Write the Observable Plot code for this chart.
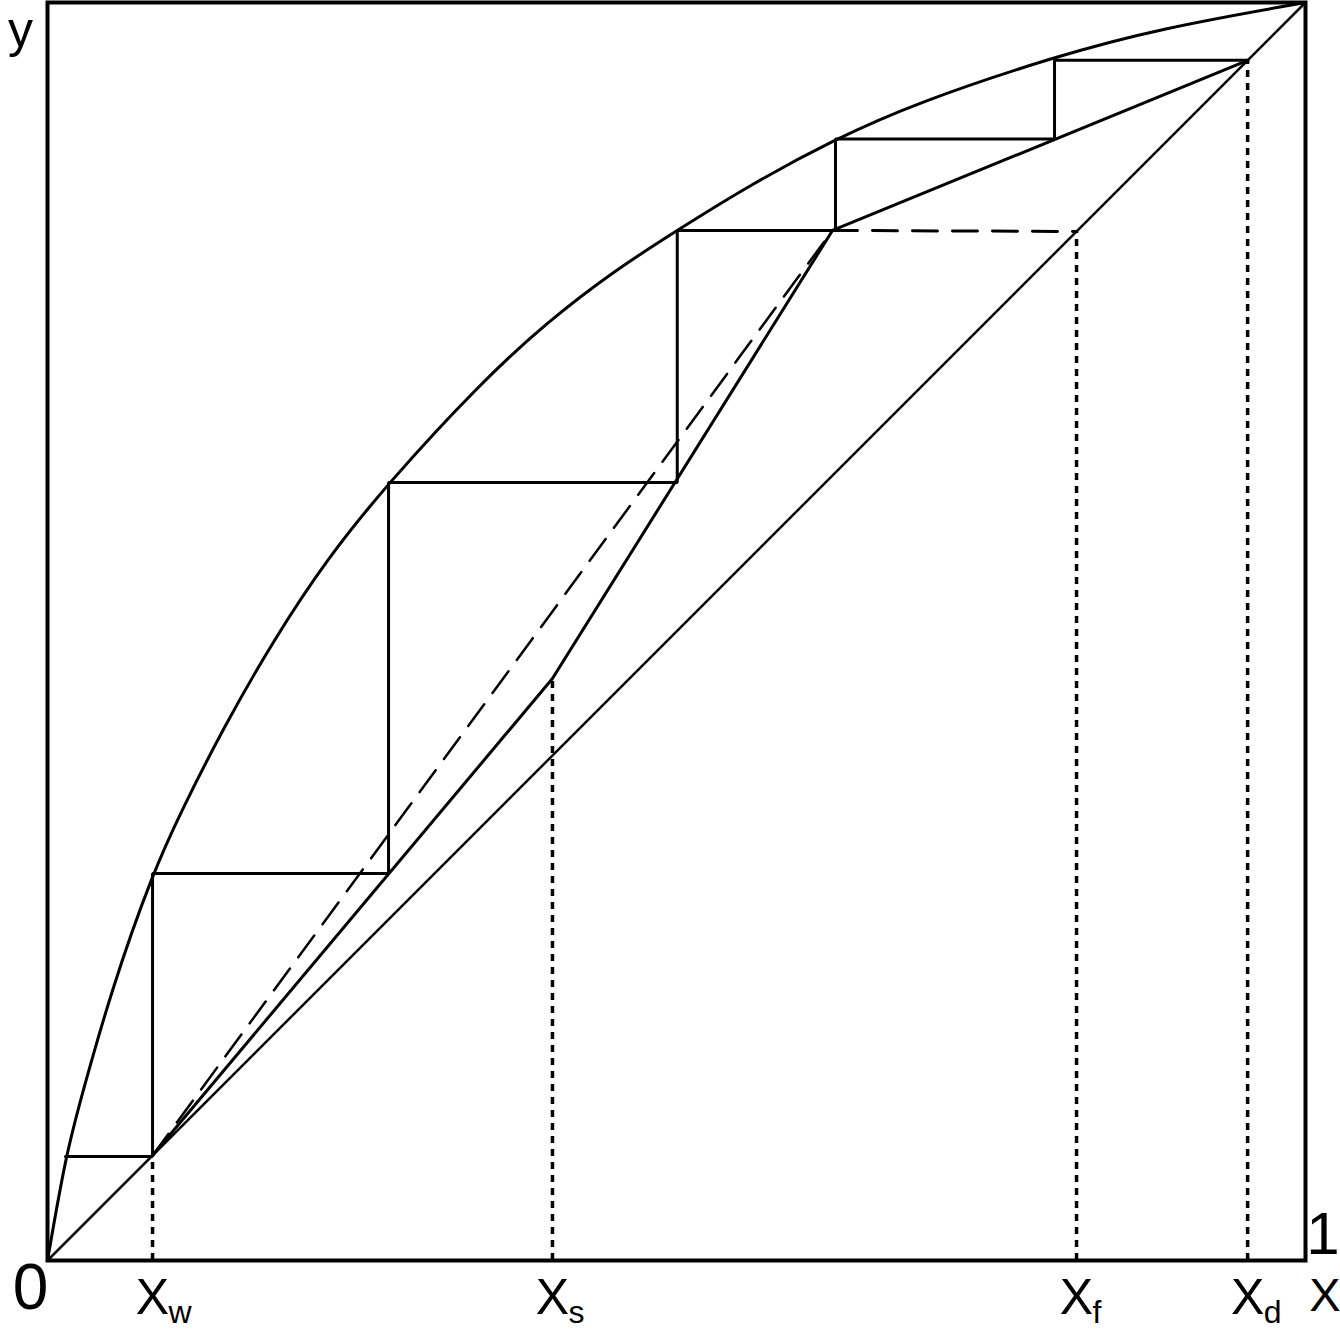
<!DOCTYPE html>
<html>
<head>
<meta charset="utf-8">
<script src="https://cdn.jsdelivr.net/npm/d3@7"></script>
<script src="https://cdn.jsdelivr.net/npm/@observablehq/plot@0.6"></script>
<style>
  html, body { margin: 0; padding: 0; background: #fff; }
  svg { display: block; }
</style>
</head>
<body>
<div id="chart"></div>
<script>
// Equilibrium curve
const eqX = [0, 0.0143, 0.0276, 0.0514, 0.0835, 0.1057, 0.1401, 0.1799, 0.2223, 0.2711, 0.3442, 0.3972, 0.4502, 0.5006, 0.5601, 0.6264, 0.6900, 0.8005, 0.8847, 1];
const eqY = [0, 0.0827, 0.1327, 0.2170, 0.3076, 0.3560, 0.4240, 0.4935, 0.5580, 0.6184, 0.6975, 0.7460, 0.7865, 0.8190, 0.8560, 0.8915, 0.9200, 0.9571, 0.9795, 1];

// Key compositions
const xw = 0.0835, xs = 0.4014, xf = 0.818, xd = 0.954;
const ys = 0.4626;          // stripping/middle junction
const xKink = 0.624, yKink = 0.8188;  // feed (q-line) intersection

// Diagonal
const diagX = [0, 1];
const diagY = [0, 1];

// Operating lines (rectifying -> middle -> stripping)
const opX = [xd, xKink, xs, xw];
const opY = [xd, yKink, ys, xw];

// Stage staircase
const stairX = [xd, 0.8005, 0.8005, 0.6264, 0.6264, 0.5006, 0.5006, 0.2711, 0.2711, 0.0835, 0.0835, 0.0143];
const stairY = [xd, xd, 0.8915, 0.8915, yKink, yKink, 0.6184, 0.6184, 0.3076, 0.3076, 0.0827, 0.0827];

// Dashed lines
const qLineX = [xKink, xf];
const qLineY = [yKink, xf];
const minRefluxX = [xw, xKink];
const minRefluxY = [xw, yKink];

// Dotted drop lines
const dropX = [xw, xs, xf, xd];
const dropTop = [xw, ys, xf, xd];

// Tick labels
const tickMain = ["X", "X", "X", "X"];
const tickSub = ["w", "s", "f", "d"];

const toPts = (xs_, ys_) => xs_.map((x, i) => ({x, y: ys_[i]}));
const drops = dropX.map((x, i) => ({x, top: dropTop[i]}));
const ticks = dropX.map((x, i) => ({x, main: tickMain[i], sub: tickSub[i]}));

const font = "Liberation Sans, Arial, sans-serif";

const chart = Plot.plot({
  width: 1340,
  height: 1329,
  marginLeft: 47,
  marginRight: 35,
  marginTop: 2,
  marginBottom: 69,
  x: {domain: [0, 1], axis: null},
  y: {domain: [0, 1], axis: null},
  style: {fontFamily: font, background: "#fff", color: "#000"},
  marks: [
    Plot.ruleX(drops, {x: "x", y1: 0, y2: "top", stroke: "#000", strokeWidth: 3.5, strokeDasharray: "7,6"}),
    Plot.line(toPts(qLineX, qLineY), {x: "x", y: "y", stroke: "#000", strokeWidth: 3, strokeDasharray: "25,15"}),
    Plot.line(toPts(minRefluxX, minRefluxY), {x: "x", y: "y", stroke: "#000", strokeWidth: 2.5, strokeDasharray: "27,14"}),
    Plot.line(toPts(diagX, diagY), {x: "x", y: "y", stroke: "#000", strokeWidth: 2.5}),
    Plot.line(toPts(eqX, eqY), {x: "x", y: "y", stroke: "#000", strokeWidth: 3, curve: "basis"}),
    Plot.line(toPts(opX, opY), {x: "x", y: "y", stroke: "#000", strokeWidth: 3}),
    Plot.line(toPts(stairX, stairY), {x: "x", y: "y", stroke: "#000", strokeWidth: 3, strokeLinejoin: "miter"}),
    Plot.frame({stroke: "#000", strokeWidth: 4}),
    // tick labels
    Plot.text(ticks, {x: "x", y: 0, text: "main", fontSize: 50, textAnchor: "middle", lineAnchor: "bottom", dy: 53, fill: "#000"}),
    Plot.text(ticks, {x: "x", y: 0, text: "sub", fontSize: 32, textAnchor: "start", lineAnchor: "bottom", dx: 16, dy: 62, fill: "#000"}),
    Plot.text(["0"], {x: 0, y: 0, text: d => d, fontSize: 64, textAnchor: "middle", lineAnchor: "bottom", dx: -17, dy: 48, fill: "#000"}),
    Plot.text(["1"], {x: 1, y: 0, text: d => d, fontSize: 60, textAnchor: "end", lineAnchor: "bottom", dx: 34, dy: -7, fill: "#000"}),
    Plot.text(["X"], {x: 1, y: 0, text: d => d, fontSize: 47, textAnchor: "end", lineAnchor: "bottom", dx: 35, dy: 50, fill: "#000"}),
    Plot.text(["y"], {x: 0, y: 1, text: d => d, fontSize: 50, textAnchor: "middle", lineAnchor: "bottom", dx: -27, dy: 44, fill: "#000"})
  ]
});
document.getElementById("chart").appendChild(chart);
</script>
</body>
</html>
